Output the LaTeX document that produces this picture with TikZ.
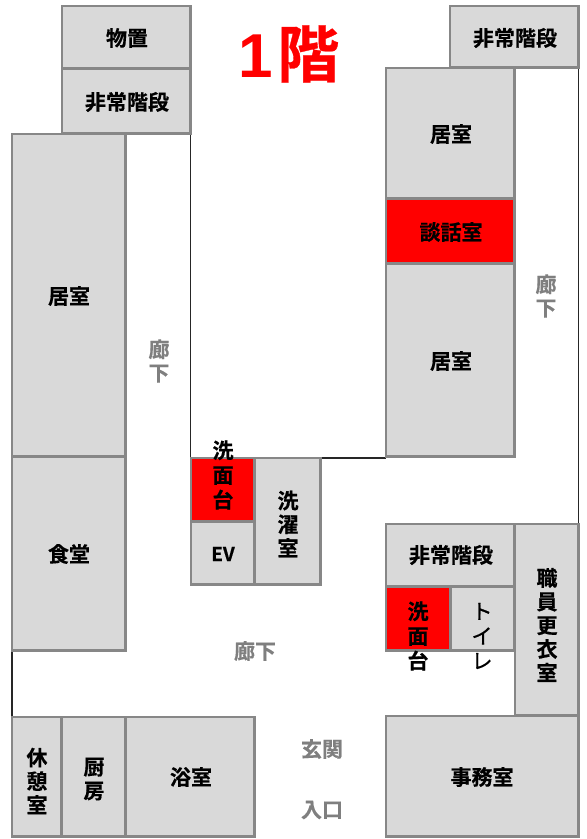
\documentclass[tikz,border=0pt]{standalone}
\usepackage{fontspec}
\setmainfont{Noto Sans CJK JP}[BoldFont={Noto Sans CJK JP Bold},BoldFeatures={FakeBold=0.5}]
\newfontfamily\kanafont{Noto Sans CJK JP}[FakeBold=0.8]
\newfontfamily\titlefont{Liberation Sans}
\definecolor{roomfill}{HTML}{D9D9D9}
\definecolor{roomline}{HTML}{878787}
\definecolor{hallgray}{HTML}{7F7F7F}
\definecolor{hotred}{HTML}{FF0000}
\tikzset{
  room/.style={draw=roomline,line width=2.8pt,fill=roomfill,inner sep=0pt,outer sep=0pt,anchor=north west},
  hotroom/.style={room,fill=hotred},
  size/.style n args={2}{minimum width={#1pt-0.7pt},minimum height={#2pt-0.7pt}},
  roomtext/.style={inner sep=0pt,align=center,font=\bfseries\fontsize{21}{24.7}\selectfont,text=black},
  tighttext/.style={roomtext,font=\bfseries\fontsize{21}{23.7}\selectfont},
  hall/.style={inner sep=0pt,align=center,font=\bfseries\fontsize{21}{23.7}\selectfont,text=hallgray},
  wall/.style={draw=black!85,line width=1.1pt},
}
\begin{document}
\begin{tikzpicture}[x=1pt,y=-1pt]
\useasboundingbox (0,0) rectangle (587,839);
% thin walls
\coordinate (wa) at (190.6,134);
\coordinate (wb) at (190.6,458);
\coordinate (wc) at (321,458);
\coordinate (wd) at (386,458);
\coordinate (we) at (12,651);
\coordinate (wf) at (12,717);
\coordinate (wg) at (578.6,68);
\coordinate (wh) at (578.6,524);
\draw[wall] (wa) -- (wb);
\draw[wall] (wc) -- (wd);
\draw[wall] (we) -- (wf);
\draw[wall] (wg) -- (wh);
% rooms
\node[room,size={129}{63}] (storage) at (62,6) {};
\node[room,size={129}{65}] (stairA) at (62,69) {};
\node[room,size={129}{62}] (stairB) at (450,6) {};
\node[room,size={129}{131}] (roomA) at (386,68) {};
\node[room,size={129}{193}] (roomB) at (386,264) {};
\node[hotroom,size={129}{65}] (talk) at (386,199) {};
\node[room,size={114}{323}] (roomC) at (12,134) {};
\node[room,size={114}{194}] (dining) at (12,457) {};
\node[room,size={64}{63}] (ev) at (191,522) {};
\node[hotroom,size={64}{64}] (sinkA) at (191,458) {};
\node[room,size={66}{127}] (laundry) at (255,458) {};
\node[room,size={129}{63}] (stairC) at (386,524) {};
\node[hotroom,size={65}{64}] (sinkB) at (386,587) {};
\node[room,size={64}{64}] (toilet) at (451,587) {};
\node[room,size={64}{192}] (staff) at (515,524) {};
\node[room,size={193}{121}] (office) at (386,716) {};
\node[room,size={50}{120}] (rest) at (12,717) {};
\node[room,size={64}{120}] (kitchen) at (62,717) {};
\node[room,size={129}{120}] (bath) at (126,717) {};
% room labels
\node[roomtext] (storagetext) at (127,38) {物置};
\node[roomtext] (stairAtext) at (127,102) {非常階段};
\node[roomtext] (stairBtext) at (515,38) {非常階段};
\node[roomtext] (roomAtext) at (451,134) {居室};
\node[roomtext] (roomBtext) at (451,361) {居室};
\node[roomtext] (talktext) at (451,232) {談話室};
\node[roomtext] (roomCtext) at (69,296) {居室};
\node[roomtext] (diningtext) at (69,554) {食堂};
\node[roomtext,font=\bfseries\fontsize{19}{24}\selectfont] (evtext) at (223,554) {EV};
\node[tighttext] (laundrytext) at (288,524) {洗\\濯\\室};
\node[roomtext] (stairCtext) at (451,555) {非常階段};
\node[tighttext] (stafftext) at (547,625) {職\\員\\更\\衣\\室};
\node[roomtext] (officetext) at (482,777) {事務室};
\node[tighttext] (resttext) at (37,781) {休\\憩\\室};
\node[tighttext] (kitchentext) at (94,779) {厨\\房};
\node[roomtext] (bathtext) at (191,777) {浴室};
\node[roomtext] (sinkAtext) at (223,475) {洗\\面\\台};
\node[roomtext] (sinkBtext) at (418,636) {洗\\面\\台};
\node[roomtext,font=\kanafont\fontsize{21}{24.7}\selectfont] (toilettext) at (482,636) {ト\\イ\\レ};
% corridor and entrance labels
\node[hall] (hallA) at (159,361) {廊\\下};
\node[hall] (hallB) at (546,296) {廊\\下};
\node[hall] (hallC) at (255,651) {廊下};
\node[hall] (genkan) at (322,749) {玄関};
\node[hall] (entry) at (322,810) {入口};
% title
\node[inner sep=0pt,text=hotred,anchor=center,font=\bfseries\fontsize{62}{62}\selectfont] (title) at (289,54) {{\titlefont 1}\kern4pt 階};
\end{tikzpicture}
\end{document}
